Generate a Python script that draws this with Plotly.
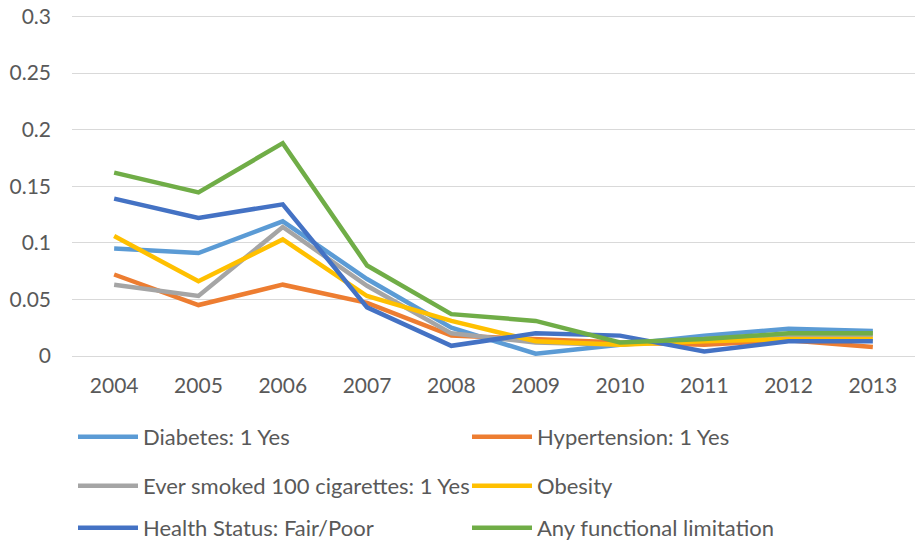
import plotly.graph_objects as go

years = ["2004", "2005", "2006", "2007", "2008", "2009", "2010", "2011", "2012", "2013"]

diabetes = [0.095, 0.091, 0.119, 0.068, 0.025, 0.002, 0.010, 0.018, 0.024, 0.022]
hypertension = [0.072, 0.045, 0.063, 0.047, 0.018, 0.015, 0.012, 0.010, 0.014, 0.008]
smoked = [0.063, 0.053, 0.114, 0.062, 0.020, 0.012, 0.010, 0.015, 0.018, 0.018]
obesity = [0.106, 0.066, 0.103, 0.053, 0.031, 0.013, 0.010, 0.013, 0.015, 0.015]
health_status = [0.139, 0.122, 0.134, 0.043, 0.009, 0.020, 0.018, 0.004, 0.013, 0.013]
functional = [0.162, 0.1445, 0.188, 0.080, 0.037, 0.031, 0.012, 0.015, 0.020, 0.020]

series_names = ["Diabetes: 1 Yes", "Hypertension: 1 Yes", "Ever smoked 100 cigarettes: 1 Yes",
                "Obesity", "Health Status: Fair/Poor", "Any functional limitation"]
series_values = [diabetes, hypertension, smoked, obesity, health_status, functional]
colors = ["#5B9BD5", "#ED7D31", "#A5A5A5", "#FFC000", "#4472C4", "#70AD47"]
legend_ids = ["legend", "legend", "legend2", "legend2", "legend3", "legend3"]

y_ticks = [0, 0.05, 0.1, 0.15, 0.2, 0.25, 0.3]
y_tick_text = ["0", "0.05", "0.1", "0.15", "0.2", "0.25", "0.3"]

FONT = "Lato"
GRAY = "#595959"

fig = go.Figure()
for name, vals, col, lg in zip(series_names, series_values, colors, legend_ids):
    fig.add_trace(go.Scatter(x=years, y=vals, mode="lines", name=name,
                             line=dict(color=col, width=4.5), legend=lg))

W, H = 922, 543
ml, mr, mt, mb = 72, 7, 13, 187
pw = W - ml - mr
ph = H - mt - mb

def lx(px):
    return (px - ml) / pw

def ly(py):
    return (H - mb - py) / ph

leg_common = dict(orientation="h", xanchor="left", yanchor="middle",
                  font=dict(family=FONT, size=22, color=GRAY),
                  entrywidth=319, entrywidthmode="pixels",
                  bgcolor="rgba(0,0,0,0)", itemwidth=60)

fig.update_layout(
    width=W, height=H,
    margin=dict(l=ml, r=mr, t=mt, b=mb, autoexpand=False),
    paper_bgcolor="white", plot_bgcolor="white",
    font=dict(family=FONT, size=21, color=GRAY),
    xaxis=dict(type="category", range=[-0.5, 9.5], showgrid=False, zeroline=False,
               showline=True, linecolor="#d9d9d9", linewidth=1, ticks="",
               tickfont=dict(family=FONT, size=21, color=GRAY), ticklabelstandoff=11),
    yaxis=dict(range=[0, 0.303], tickvals=y_ticks, ticktext=y_tick_text,
               showgrid=True, gridcolor="#d9d9d9", gridwidth=1, zeroline=False,
               ticks="", tickfont=dict(family=FONT, size=21, color=GRAY),
               ticklabelstandoff=20),
    legend=dict(x=lx(73), y=ly(437), **leg_common),
    legend2=dict(x=lx(73), y=ly(486), **leg_common),
    legend3=dict(x=lx(73), y=ly(528), **leg_common),
)

fig.write_html("out.html", config={"displayModeBar": False},
               post_script="document.body.style.margin='0';")
